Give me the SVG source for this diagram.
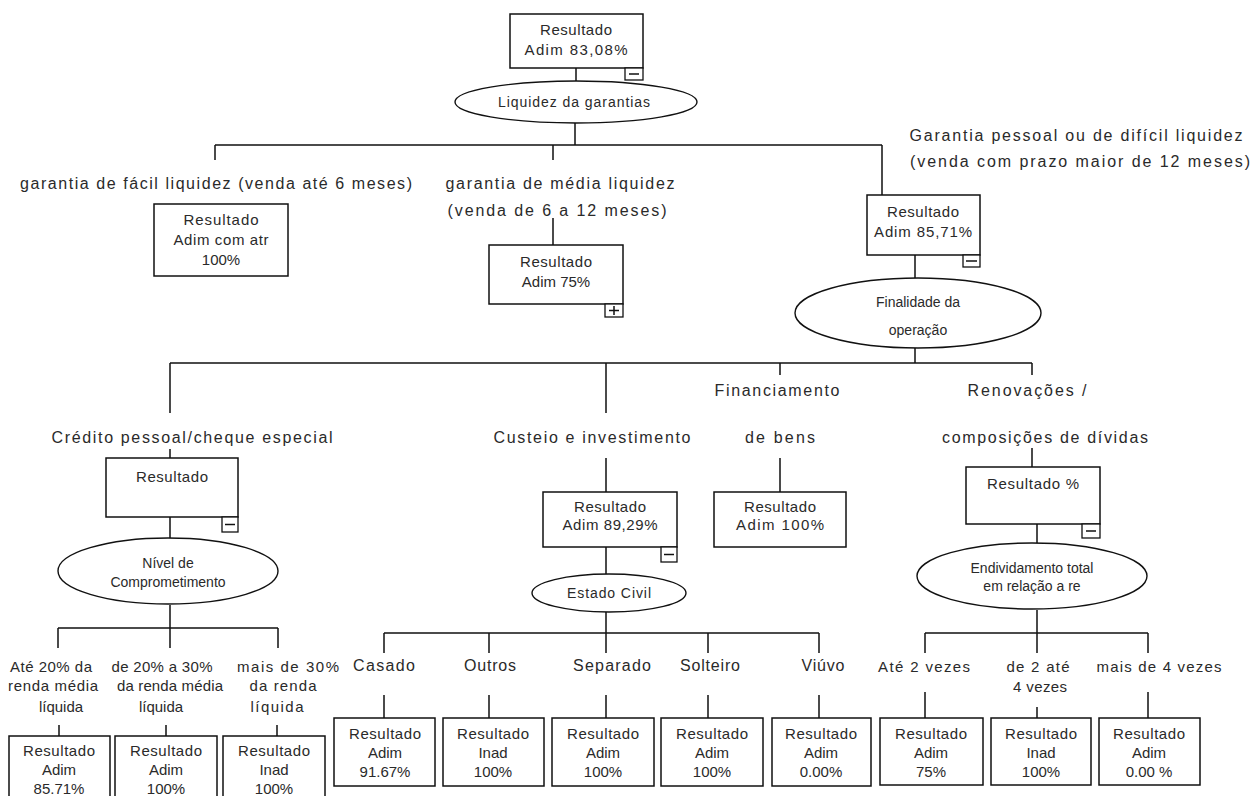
<svg xmlns="http://www.w3.org/2000/svg" width="1252" height="796" viewBox="0 0 1252 796">
<style>
  .bg { fill: #ffffff; }
  .box { fill: #ffffff; stroke: #111; stroke-width: 1.5; }
  .tog { fill: #ffffff; stroke: #111; stroke-width: 1.3; }
  .ell { fill: #ffffff; stroke: #111; stroke-width: 1.4; }
  .ln { fill: none; stroke: #111; stroke-width: 1.5; }
  text { font-family: "Liberation Sans", Arial, sans-serif; fill: #2a2a2a; text-anchor: middle; }
  .lb { font-size: 16px; }
  .bt { font-size: 15px; }
  .et { font-size: 14px; }
</style>
<rect class="bg" x="0" y="0" width="1252" height="796"/>

<!-- connectors -->
<g id="connectors">
  <path class="ln" d="M576 68V82M575 123V145M215 145H882M215 145V160M553 145V160M882 145V195M553 218V245"/>
  <path class="ln" d="M915 255V278M915 348V363M170 363H1032M170 363V413M606 363V413M780 363V375M1032 363V375"/>
  <path class="ln" d="M170 449V458M170 517V538M170 605V628M58 628H278M58 628V648M170 628V648M278 628V648M59 725V736M166 725V736M277 725V736"/>
  <path class="ln" d="M606 458V492M606 547V574M606 612V633M384 633H819M384 633V653M489 633V653M606 633V653M708 633V653M819 633V653"/>
  <path class="ln" d="M384 695V718M489 695V718M606 695V718M708 695V718M819 695V718"/>
  <path class="ln" d="M780 458V492M1032 448V467M1037 524V543M1037 610V633M925 633H1148M925 633V653M1037 633V653M1148 633V653M925 692V718M1037 707V718M1148 692V718"/>
</g>

<!-- root -->
<g id="root">
  <rect class="box" x="510" y="14" width="133" height="54"/>
  <text class="bt" x="576" y="35" textLength="72">Resultado</text>
  <text class="bt" x="576" y="55" textLength="103">Adim 83,08%</text>
  <rect class="tog" x="625" y="68" width="18" height="12"/>
  <path class="ln" d="M629 74H639"/>
</g>
<g id="liquidez">
  <ellipse class="ell" cx="576" cy="102" rx="121" ry="21"/>
  <text class="et" x="574" y="107" textLength="152">Liquidez da garantias</text>
</g>

<!-- first level branches -->
<g id="facil">
  <text class="lb" x="216" y="189" textLength="392">garantia de fácil liquidez (venda até 6 meses)</text>
  <rect class="box" x="154" y="204" width="134" height="72"/>
  <text class="bt" x="221" y="225" textLength="75">Resultado</text>
  <text class="bt" x="221" y="245" textLength="95">Adim com atr</text>
  <text class="bt" x="221" y="265">100%</text>
</g>
<g id="media">
  <text class="lb" x="560" y="189" textLength="229">garantia de média liquidez</text>
  <text class="lb" x="557" y="216" textLength="219">(venda de 6 a 12 meses)</text>
  <rect class="box" x="489" y="245" width="134" height="59"/>
  <text class="bt" x="556" y="267" textLength="72">Resultado</text>
  <text class="bt" x="556" y="287">Adim 75%</text>
  <rect class="tog" x="605" y="304" width="18" height="13"/>
  <path class="ln" d="M609 310.5H619M614 306V315"/>
</g>
<g id="pessoal">
  <text class="lb" x="1076" y="141" textLength="333">Garantia pessoal ou de difícil liquidez</text>
  <text class="lb" x="1080" y="167" textLength="340">(venda com prazo maior de 12 meses)</text>
  <rect class="box" x="867" y="195" width="113" height="60"/>
  <text class="bt" x="923" y="217" textLength="72">Resultado</text>
  <text class="bt" x="923" y="237" textLength="98">Adim 85,71%</text>
  <rect class="tog" x="963" y="255" width="17" height="12"/>
  <path class="ln" d="M966 261H977"/>
</g>
<g id="finalidade">
  <ellipse class="ell" cx="918" cy="313" rx="123" ry="35"/>
  <text class="et" x="918" y="307">Finalidade da</text>
  <text class="et" x="918" y="335">operação</text>
</g>

<!-- purpose branches -->
<g id="credito">
  <text class="lb" x="192" y="443" textLength="281">Crédito pessoal/cheque especial</text>
  <rect class="box" x="106" y="458" width="132" height="59"/>
  <text class="bt" x="172" y="482" textLength="72">Resultado</text>
  <rect class="tog" x="222" y="517" width="16" height="15"/>
  <path class="ln" d="M225 524.5H235"/>
</g>
<g id="comprometimento">
  <ellipse class="ell" cx="168" cy="571" rx="110" ry="33"/>
  <text class="et" x="168" y="568">Nível de</text>
  <text class="et" x="168" y="587">Comprometimento</text>
</g>
<g id="ate20">
  <text class="bt" x="51" y="672" textLength="82">Até 20% da</text>
  <text class="bt" x="53" y="691" textLength="90">renda média</text>
  <text class="bt" x="61" y="712">líquida</text>
  <rect class="box" x="9" y="736" width="101" height="70"/>
  <text class="bt" x="59" y="756" textLength="72">Resultado</text>
  <text class="bt" x="59" y="775">Adim</text>
  <text class="bt" x="59" y="794">85.71%</text>
</g>
<g id="de20a30">
  <text class="bt" x="162" y="672" textLength="101">de 20% a 30%</text>
  <text class="bt" x="170" y="691" textLength="106">da renda média</text>
  <text class="bt" x="161" y="712">líquida</text>
  <rect class="box" x="115" y="736" width="102" height="70"/>
  <text class="bt" x="166" y="756" textLength="72">Resultado</text>
  <text class="bt" x="166" y="775">Adim</text>
  <text class="bt" x="166" y="794">100%</text>
</g>
<g id="mais30">
  <text class="bt" x="288" y="672" textLength="102">mais de 30%</text>
  <text class="bt" x="283" y="691" textLength="67">da renda</text>
  <text class="bt" x="277" y="712" textLength="53">líquida</text>
  <rect class="box" x="223" y="736" width="102" height="70"/>
  <text class="bt" x="274" y="756" textLength="72">Resultado</text>
  <text class="bt" x="274" y="775">Inad</text>
  <text class="bt" x="274" y="794">100%</text>
</g>

<g id="custeio">
  <text class="lb" x="592" y="443" textLength="197">Custeio e investimento</text>
  <rect class="box" x="543" y="492" width="134" height="55"/>
  <text class="bt" x="610" y="512" textLength="72">Resultado</text>
  <text class="bt" x="610" y="530" textLength="95">Adim 89,29%</text>
  <rect class="tog" x="661" y="547" width="16" height="15"/>
  <path class="ln" d="M664 554.5H674"/>
</g>
<g id="estadocivil">
  <ellipse class="ell" cx="609" cy="593" rx="77" ry="19"/>
  <text class="et" x="609" y="598" textLength="84">Estado Civil</text>
</g>
<g id="casado">
  <text class="lb" x="384" y="671" textLength="62">Casado</text>
  <rect class="box" x="334" y="718" width="101" height="68"/>
  <text class="bt" x="385" y="739" textLength="72">Resultado</text>
  <text class="bt" x="385" y="758">Adim</text>
  <text class="bt" x="385" y="777">91.67%</text>
</g>
<g id="outros">
  <text class="lb" x="490" y="671" textLength="52">Outros</text>
  <rect class="box" x="443" y="718" width="101" height="68"/>
  <text class="bt" x="493" y="739" textLength="72">Resultado</text>
  <text class="bt" x="493" y="758">Inad</text>
  <text class="bt" x="493" y="777">100%</text>
</g>
<g id="separado">
  <text class="lb" x="612" y="671" textLength="78">Separado</text>
  <rect class="box" x="552" y="718" width="102" height="68"/>
  <text class="bt" x="603" y="739" textLength="72">Resultado</text>
  <text class="bt" x="603" y="758">Adim</text>
  <text class="bt" x="603" y="777">100%</text>
</g>
<g id="solteiro">
  <text class="lb" x="710" y="671" textLength="60">Solteiro</text>
  <rect class="box" x="661" y="718" width="102" height="68"/>
  <text class="bt" x="712" y="739" textLength="72">Resultado</text>
  <text class="bt" x="712" y="758">Adim</text>
  <text class="bt" x="712" y="777">100%</text>
</g>
<g id="viuvo">
  <text class="lb" x="823" y="671" textLength="43">Viúvo</text>
  <rect class="box" x="772" y="718" width="99" height="68"/>
  <text class="bt" x="821" y="739" textLength="72">Resultado</text>
  <text class="bt" x="821" y="758">Adim</text>
  <text class="bt" x="821" y="777">0.00%</text>
</g>

<g id="financiamento">
  <text class="lb" x="777" y="396" textLength="125">Financiamento</text>
  <text class="lb" x="780" y="443" textLength="70">de bens</text>
  <rect class="box" x="714" y="492" width="132" height="55"/>
  <text class="bt" x="780" y="512" textLength="72">Resultado</text>
  <text class="bt" x="780" y="530" textLength="88">Adim 100%</text>
</g>

<g id="renovacoes">
  <text class="lb" x="1027" y="396" textLength="119">Renovações /</text>
  <text class="lb" x="1045" y="443" textLength="206">composições de dívidas</text>
  <rect class="box" x="966" y="467" width="134" height="57"/>
  <text class="bt" x="1033" y="489" textLength="92">Resultado %</text>
  <rect class="tog" x="1082" y="524" width="18" height="14"/>
  <path class="ln" d="M1086 531H1096"/>
</g>
<g id="endividamento">
  <ellipse class="ell" cx="1032" cy="576" rx="115" ry="33"/>
  <text class="et" x="1032" y="573">Endividamento total</text>
  <text class="et" x="1032" y="591">em relação a re</text>
</g>
<g id="ate2">
  <text class="bt" x="924" y="672" textLength="92">Até 2 vezes</text>
  <rect class="box" x="880" y="718" width="103" height="67"/>
  <text class="bt" x="931" y="739" textLength="72">Resultado</text>
  <text class="bt" x="931" y="758">Adim</text>
  <text class="bt" x="931" y="777">75%</text>
</g>
<g id="de2ate4">
  <text class="bt" x="1038" y="672" textLength="63">de 2 até</text>
  <text class="bt" x="1040" y="692" textLength="54">4 vezes</text>
  <rect class="box" x="991" y="718" width="100" height="67"/>
  <text class="bt" x="1041" y="739" textLength="72">Resultado</text>
  <text class="bt" x="1041" y="758">Inad</text>
  <text class="bt" x="1041" y="777">100%</text>
</g>
<g id="mais4">
  <text class="bt" x="1159" y="672" textLength="125">mais de 4 vezes</text>
  <rect class="box" x="1099" y="718" width="101" height="67"/>
  <text class="bt" x="1149" y="739" textLength="72">Resultado</text>
  <text class="bt" x="1149" y="758">Adim</text>
  <text class="bt" x="1149" y="777">0.00 %</text>
</g>
</svg>
